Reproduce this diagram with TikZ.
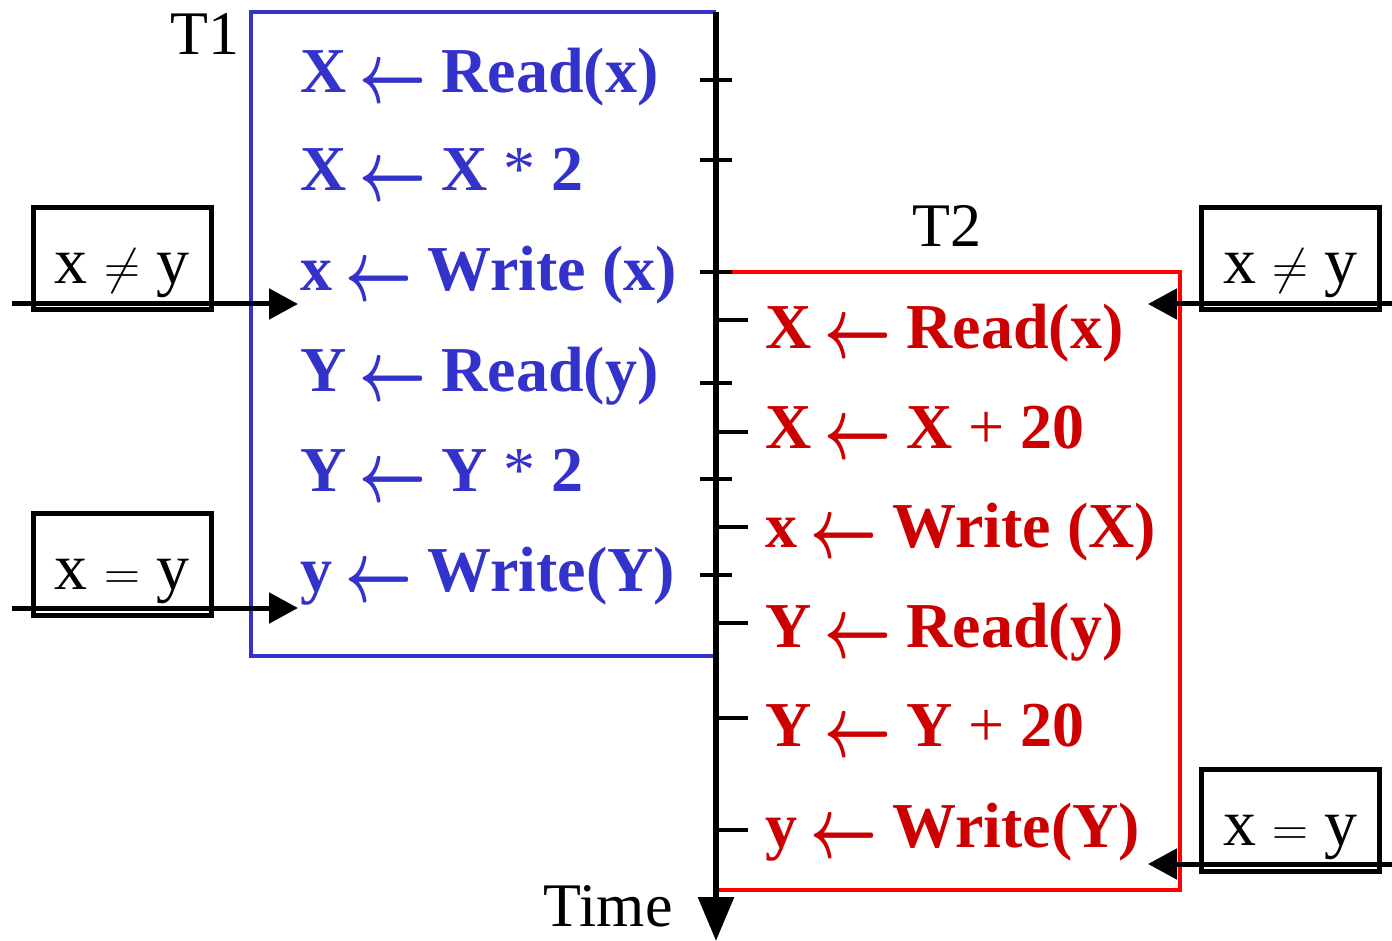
\documentclass[tikz,border=0pt]{standalone}
\usepackage{fontspec}
\setmainfont{Liberation Serif}
\usetikzlibrary{arrows.meta}
\definecolor{tblue}{HTML}{3333CC}
\definecolor{tred}{HTML}{FF0000}
\definecolor{tredtext}{HTML}{CC0000}
\newcommand{\larr}{\hspace{6.5pt}\raisebox{-5pt}{\scalebox{1.17}[1.75]{\boldmath$\leftarrow$}}\hspace{7.5pt}}
\newcommand{\mdop}[1]{{\mdseries #1}}
\tikzset{
  optext/.style={anchor=base west, inner sep=0pt, font=\fontsize{32pt}{36pt}\selectfont\bfseries},
  bluetext/.style={optext, text=tblue},
  redtext/.style={optext, text=tredtext},
  plain/.style={inner sep=0pt, font=\fontsize{31pt}{34pt}\selectfont},
  condbox/.style={draw=black, line width=2.5pt, minimum width=89pt, minimum height=51pt, inner sep=0pt,
    text height=25pt, text depth=0pt, font=\fontsize{33pt}{36pt}\selectfont},
  condarrow/.style={draw=black, line width=2.5pt, -{Triangle[length=14.5pt,width=15pt]}},
  tick/.style={draw=black, line width=2.2pt},
  axis/.style={draw=black, line width=3pt, -{Triangle[length=22pt,width=17.5pt]}},
}
\begin{document}
\begin{tikzpicture}[x=0.5pt,y=-0.5pt]
\useasboundingbox (0,0) rectangle (1392,941);
% transaction boxes
\draw[tblue, line width=2.2pt] (716,12) -- (251,12) -- (251,656) -- (716,656);
\draw[tred, line width=2.2pt] (716,272) -- (1180,272) -- (1180,890) -- (716,890);
% labels
\node[plain, anchor=base east] (t1) at (240,55) {T1};
\node[plain, anchor=base west] (t2) at (912,247) {T2};
\node[plain, anchor=base east] (time) at (673,926) {Time};
% time axis
\coordinate (atop) at (716,12);
\coordinate (abot) at (716,941);
\draw[axis] (atop) -- (abot);
% T1 ticks (centered)
\foreach \y in {80,160,272,383,479,575} {
  \draw[tick] (700,\y) -- (732,\y);
}
% T2 ticks (right)
\foreach \y in {320,432,527,623,718,830} {
  \draw[tick] (716,\y) -- (748,\y);
}
% T1 operations
\node[bluetext] (b1) at (300,93) {X\larr Read(x)};
\node[bluetext] (b2) at (300,191) {X\larr X \mdop{*} 2};
\node[bluetext] (b3) at (300,291) {x\larr Write (x)};
\node[bluetext] (b4) at (300,391) {Y\larr Read(y)};
\node[bluetext] (b5) at (300,491) {Y\larr Y \mdop{*} 2};
\node[bluetext] (b6) at (300,591) {y\larr Write(Y)};
% T2 operations
\node[redtext] (r1) at (765,348) {X\larr Read(x)};
\node[redtext] (r2) at (765,448) {X\larr X \mdop{+} 20};
\node[redtext] (r3) at (765,547) {x\larr Write (X)};
\node[redtext] (r4) at (765,647) {Y\larr Read(y)};
\node[redtext] (r5) at (765,746) {Y\larr Y \mdop{+} 20};
\node[redtext] (r6) at (765,847) {y\larr Write(Y)};
% condition boxes
\node[condbox] (c1) at (122,258.5) {x $\neq$ y};
\node[condbox] (c2) at (122,564) {x $=$ y};
\node[condbox] (c3) at (1290.5,258.5) {x $\neq$ y};
\node[condbox] (c4) at (1290.5,820) {x $=$ y};
% condition arrows
\coordinate (c1s) at (12,304);
\coordinate (c1e) at (298,304);
\coordinate (c2s) at (12,608);
\coordinate (c2e) at (298,608);
\coordinate (c3s) at (1392,304);
\coordinate (c3e) at (1148,304);
\coordinate (c4s) at (1392,864);
\coordinate (c4e) at (1148,864);
\draw[condarrow] (c1s) -- (c1e);
\draw[condarrow] (c2s) -- (c2e);
\draw[condarrow] (c3s) -- (c3e);
\draw[condarrow] (c4s) -- (c4e);
\end{tikzpicture}
\end{document}
